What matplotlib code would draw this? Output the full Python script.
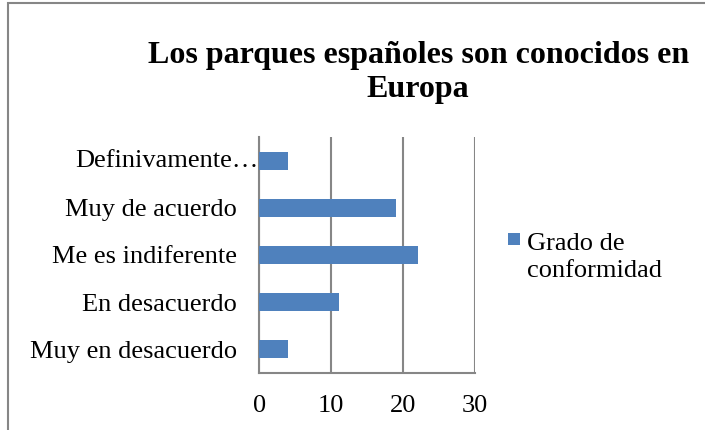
import matplotlib
matplotlib.use("Agg")
import matplotlib.pyplot as plt
from matplotlib.patches import Rectangle
import matplotlib.transforms as mtransforms

categories = ["Muy en desacuerdo", "En desacuerdo", "Me es indiferente", "Muy de acuerdo", "Definivamente…"]
values = [4, 11, 22, 19, 4]
series_name = "Grado de\nconformidad"
title = "Los parques españoles son conocidos en\nEuropa"
xticks = [0, 10, 20, 30]
bar_color = "#4F81BD"

plt.rcParams['font.family'] = ['Liberation Serif', 'DejaVu Serif']

W, H = 705, 430
fig = plt.figure(figsize=(W / 100, H / 100), dpi=100)
ax = fig.add_axes([0.368, 0.133, 0.306, 0.548])

bars = ax.barh(range(len(categories)), values, height=0.39, color=bar_color, zorder=3,
               label=series_name)
ax.set_xlim(0, 30)
ax.set_ylim(-0.5, len(categories) - 0.5)
ax.set_xticks(xticks)
ax.set_xticklabels([str(t) for t in xticks])
ax.set_yticks(range(len(categories)))
ylabels = list(categories)
ylabels[-1] = ""
ax.set_yticklabels(ylabels)
ax.tick_params(axis='both', length=0, labelsize=19)
ax.tick_params(axis='x', pad=16)
ax.tick_params(axis='y', pad=16)
ax.grid(axis='x', color="#868686", linewidth=1.5, zorder=0)
for s in ['top', 'right']:
    ax.spines[s].set_visible(False)
for s in ['left', 'bottom']:
    ax.spines[s].set_color("#868686")
    ax.spines[s].set_linewidth(1.5)

# truncated top label reaches the axis line
trans = mtransforms.blended_transform_factory(ax.transAxes, ax.transData)
ax.text(-0.003, len(categories) - 1, categories[-1], transform=trans, ha='right',
        va='center', fontsize=19, zorder=1)

fig.text(0.593, 0.831, title, ha='center', va='center', fontsize=23, fontweight='bold',
         linespacing=1.2)

# legend (square aligned with first text line, as in the original)
fig.patches.append(Rectangle((508 / W, 1 - 245 / H), 12 / W, 12 / H, transform=fig.transFigure,
                             facecolor=bar_color, edgecolor='none'))
fig.text(527 / W, 1 - 257.5 / H, series_name, ha='left', va='center', fontsize=19,
         linespacing=1.3)

# outer chart border (cropped at right/bottom)
fig.patches.append(Rectangle((8 / W, -0.1), 1.2, 1.1 - 3 / H, transform=fig.transFigure,
                             fill=False, edgecolor="#868686", linewidth=1.5))

fig.savefig("out.png", dpi=100)
